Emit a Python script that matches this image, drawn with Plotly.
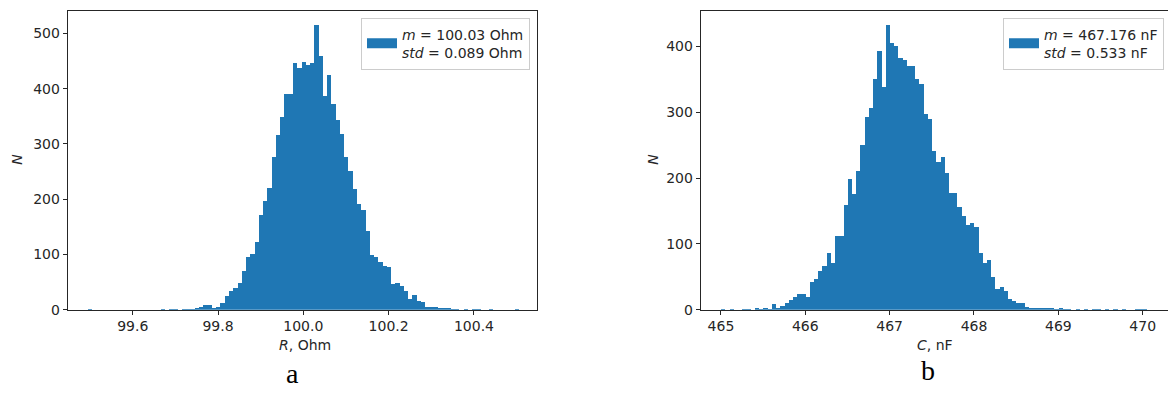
import plotly.graph_objects as go

# ---------------- data ----------------
# (a) resistance histogram: bin centres 99.50 ... 100.50, step 0.01
r_start = 99.50
r_step = 0.01
r_counts = [
    1, 0, 0, 0, 0, 0, 0, 0, 0, 0,            # 99.50-99.59
    0, 0, 0, 0, 0, 0, 0, 1, 0, 1,            # 99.60-99.69
    1, 0, 1, 1, 1, 2, 5, 9, 9, 4,            # 99.70-99.79
    5, 12, 25, 34, 40, 49, 71, 95, 102, 123,  # 99.80-99.89
    172, 198, 221, 277, 317, 349, 390, 390, 447, 437,  # 99.90-99.99
    448, 444, 446, 515, 459, 388, 426, 373, 343, 318,  # 100.00-100.09
    277, 251, 219, 191, 180, 142, 99, 96, 86, 79,      # 100.10-100.19
    77, 47, 49, 43, 34, 20, 27, 17, 15, 6,             # 100.20-100.29
    6, 5, 4, 2, 2, 1, 1, 0, 1, 0,                      # 100.30-100.39
    1, 1, 0, 0, 1, 0, 0, 0, 0, 0,                      # 100.40-100.49
    1,                                                 # 100.50
]

# (b) capacitance histogram: bins starting at 465.00, width 0.05
c_start = 465.00
c_step = 0.05
c_counts = [
    1, 0, 1, 0, 0, 1, 1, 0, 2, 1,            # 465.00-465.45
    2, 1, 9, 2, 6, 10, 15, 19, 24, 24,       # 465.50-465.95
    20, 42, 47, 59, 66, 86, 71, 112, 112, 160,   # 466.00-466.45
    199, 176, 211, 250, 293, 307, 350, 393, 339, 432,  # 466.50-466.95
    406, 401, 382, 379, 371, 371, 350, 343, 297, 290,  # 467.00-467.45
    241, 224, 233, 208, 178, 178, 156, 143, 129, 132,  # 467.50-467.95
    126, 86, 72, 76, 50, 31, 35, 29, 16, 13,           # 468.00-468.45
    11, 10, 4, 3, 3, 3, 3, 2, 2, 1,                    # 468.50-468.95
    2, 1, 1, 0, 1, 0, 1, 0, 1, 1,                      # 469.00-469.45
    0, 1, 0, 1, 0, 1, 0, 0, 1, 1,                      # 469.50-469.95
    1,                                                 # 470.00
]

r_legend = "<i>m</i> = 100.03 Ohm<br><i>std</i> = 0.089 Ohm"
c_legend = "<i>m</i> = 467.176 nF<br><i>std</i> = 0.533 nF"
r_xticks = [99.6, 99.8, 100.0, 100.2, 100.4]
r_xticklabels = ["99.6", "99.8", "100.0", "100.2", "100.4"]
c_xticks = [465, 466, 467, 468, 469, 470]
r_yticks = [0, 100, 200, 300, 400, 500]
c_yticks = [0, 100, 200, 300, 400]

# ---------------- derived ----------------
r_x = [round(r_start + i * r_step, 2) for i in range(len(r_counts))]
c_x = [round(c_start + (i + 0.5) * c_step, 3) for i in range(len(c_counts))]

W, H = 1168, 400
BLUE = "#1f77b4"
INK = "#262626"
FONT = "DejaVu Sans"

fig = go.Figure()
fig.add_trace(go.Bar(x=r_x, y=r_counts, width=r_step, showlegend=False,
                     marker=dict(color=BLUE, line=dict(width=0)),
                     xaxis="x", yaxis="y"))
fig.add_trace(go.Bar(x=c_x, y=c_counts, width=c_step, showlegend=False,
                     marker=dict(color=BLUE, line=dict(width=0)),
                     xaxis="x2", yaxis="y2"))
# legend proxies (wide patch like matplotlib's legend handle)
fig.add_trace(go.Scatter(x=[None], y=[None], mode="lines", name=r_legend,
                         line=dict(color=BLUE, width=10),
                         xaxis="x", yaxis="y", legend="legend", showlegend=True))
fig.add_trace(go.Scatter(x=[None], y=[None], mode="lines", name=c_legend,
                         line=dict(color=BLUE, width=10),
                         xaxis="x2", yaxis="y2", legend="legend2", showlegend=True))

def px(v):
    return v / W

def py(v):
    return 1 - v / H

axis_common = dict(showgrid=False, zeroline=False, showline=True, linecolor=INK,
                   linewidth=1, ticks="outside", ticklen=4, tickwidth=1,
                   tickcolor=INK, tickfont=dict(family=FONT, size=14, color=INK))

legend_common = dict(xanchor="right", yanchor="top", bgcolor="white",
                     bordercolor="#cccccc", borderwidth=1,
                     font=dict(family=FONT, size=14, color=INK),
                     itemwidth=30, tracegroupgap=0)

fig.update_layout(
    width=W, height=H,
    margin=dict(l=0, r=0, t=0, b=0),
    paper_bgcolor="white", plot_bgcolor="white",
    bargap=0, barmode="overlay",
    font=dict(family=FONT, color=INK),
    xaxis=dict(domain=[px(67.7), px(537)], range=[99.4476, 100.5477],
               tickvals=r_xticks, ticktext=r_xticklabels, mirror=True,
               anchor="y", **axis_common),
    yaxis=dict(domain=[py(316), py(11)], range=[0, 541], tickvals=r_yticks,
               mirror=True, anchor="x", **axis_common),
    xaxis2=dict(domain=[px(700.7), 1.0], range=[464.76, 470.30],
                tickvals=c_xticks, mirror=True, anchor="y2", **axis_common),
    yaxis2=dict(domain=[py(316), py(11)], range=[0, 454], tickvals=c_yticks,
                mirror=False, anchor="x2", **axis_common),
    legend=dict(x=px(530), y=py(18), **legend_common),
    legend2=dict(x=px(1164), y=py(18), **legend_common),
)

annotations = [
    dict(text="<i>N</i>", x=px(17), y=py(163), textangle=-90,
         font=dict(family=FONT, size=14, color=INK)),
    dict(text="<i>N</i>", x=px(653), y=py(163), textangle=-90,
         font=dict(family=FONT, size=14, color=INK)),
    dict(text="<i>R</i>, Ohm", x=px(305), y=py(352),
         font=dict(family=FONT, size=14, color=INK)),
    dict(text="<i>C</i>, nF", x=px(935), y=py(352),
         font=dict(family=FONT, size=14, color=INK)),
    dict(text="a", x=px(292), y=py(381),
         font=dict(family="Liberation Serif", size=28, color="black")),
    dict(text="b", x=px(928), y=py(378),
         font=dict(family="Liberation Serif", size=28, color="black")),
]
for a in annotations:
    a.update(xref="paper", yref="paper", showarrow=False,
             xanchor="center", yanchor="middle")
fig.update_layout(annotations=annotations)

fig.write_html("out.html", config={"displayModeBar": False},
               post_script="document.body.style.margin='0';document.body.style.overflow='hidden';")
